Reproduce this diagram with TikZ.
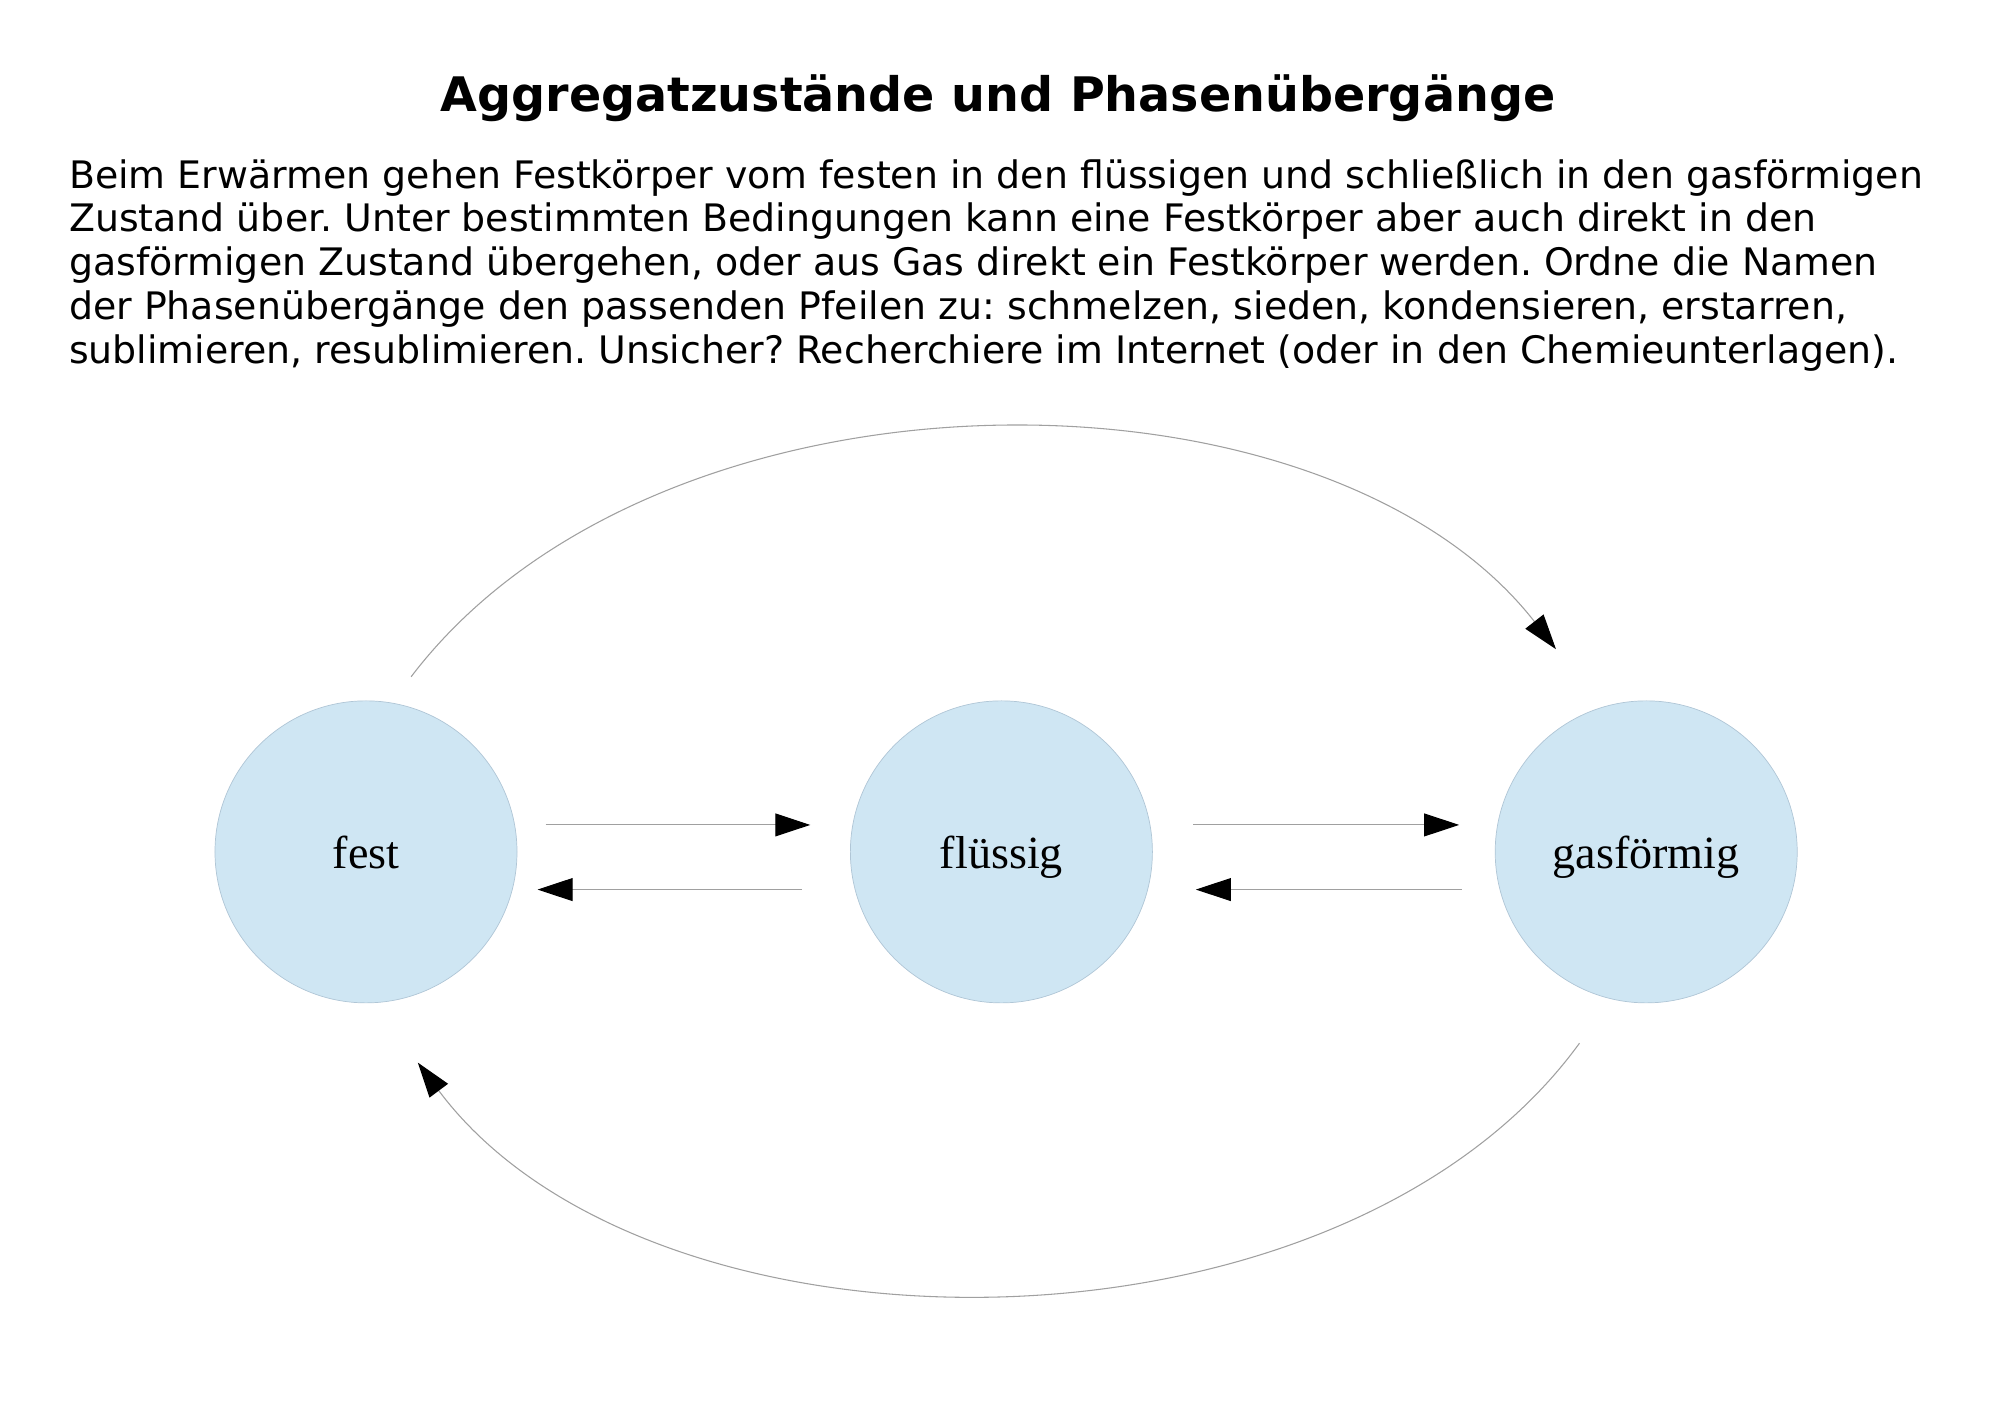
\documentclass[tikz,border=0pt]{standalone}
\usepackage{fontspec}
\setmainfont{DejaVu Sans}
\newfontfamily\statefont{Liberation Serif}
\usetikzlibrary{positioning,calc,arrows.meta}

\definecolor{statefill}{RGB}{207,230,243}
\definecolor{stateline}{RGB}{176,198,214}
\definecolor{flowline}{RGB}{160,160,160}

\begin{document}
\frenchspacing
\begin{tikzpicture}
            [
            state/.style={circle, draw=stateline, line width=0.3pt, fill=statefill,
                minimum size=44.85mm, inner sep=0pt, text height=5.5mm, text depth=0.5mm,
                font=\statefont\fontsize{19.5}{22}\selectfont},
            flow/.style={draw=flowline, line width=0.45pt,
                -{Triangle[length=5.2mm, width=3.4mm, color=black]}}
            ]
            \useasboundingbox (0,0) rectangle (297mm,-209.8mm);

            \node (title) [anchor=base, font=\bfseries\fontsize{20.1}{24}\selectfont]
                at (148.2mm,-16.5mm) {Aggregatzustände und Phasenübergänge};
            \node (task) [anchor=north west, align=left, inner sep=0pt,
                font=\fontsize{16}{18.5}\selectfont] at (10.2mm,-23.6mm)
                {Beim Erwärmen gehen Festkörper vom festen in den flüssigen und schließlich in den gasförmigen\\
                Zustand über. Unter bestimmten Bedingungen kann eine Festkörper aber auch direkt in den\\
                gasförmigen Zustand übergehen, oder aus Gas direkt ein Festkörper werden. Ordne die Namen\\
                der Phasenübergänge den passenden Pfeilen zu: schmelzen, sieden, kondensieren, erstarren,\\
                sublimieren, resublimieren. Unsicher? Recherchiere im Internet (oder in den Chemieunterlagen).};

            \node (fest) [state] at (54.35mm,-126.5mm) {fest};
            \node (fluessig) [right=49.4mm of fest, state] {flüssig};
            \node (gas) [right=50.8mm of fluessig, state] {gasförmig};

            % Neighbouring states
            \draw [flow] ([shift={(4.2mm,4mm)}]fest.east) -- ([shift={(-5.9mm,4mm)}]fluessig.west);
            \draw [flow] ([shift={(-7.1mm,-5.6mm)}]fluessig.west) -- ([shift={(3mm,-5.6mm)}]fest.east);
            \draw [flow] ([shift={(6mm,4mm)}]fluessig.east) -- ([shift={(-5.3mm,4mm)}]gas.west);
            \draw [flow] ([shift={(-4.9mm,-5.6mm)}]gas.west) -- ([shift={(6.4mm,-5.6mm)}]fluessig.east);

            % Sublimation arcs
            \draw [flow] ($(fest)+(6.7mm,26mm)$) .. controls ($(fest)+(43.5mm,74.4mm)$)
                and ($(gas)+(-48mm,74.4mm)$) .. ($(gas)+(-13.4mm,30.1mm)$);
            \draw [flow] ($(gas)+(-9.9mm,-28.4mm)$) .. controls ($(gas)+(-45.6mm,-77.5mm)$)
                and ($(fest)+(42.2mm,-77.5mm)$) .. ($(fest)+(7.7mm,-31.3mm)$);
        \end{tikzpicture}
\end{document}
